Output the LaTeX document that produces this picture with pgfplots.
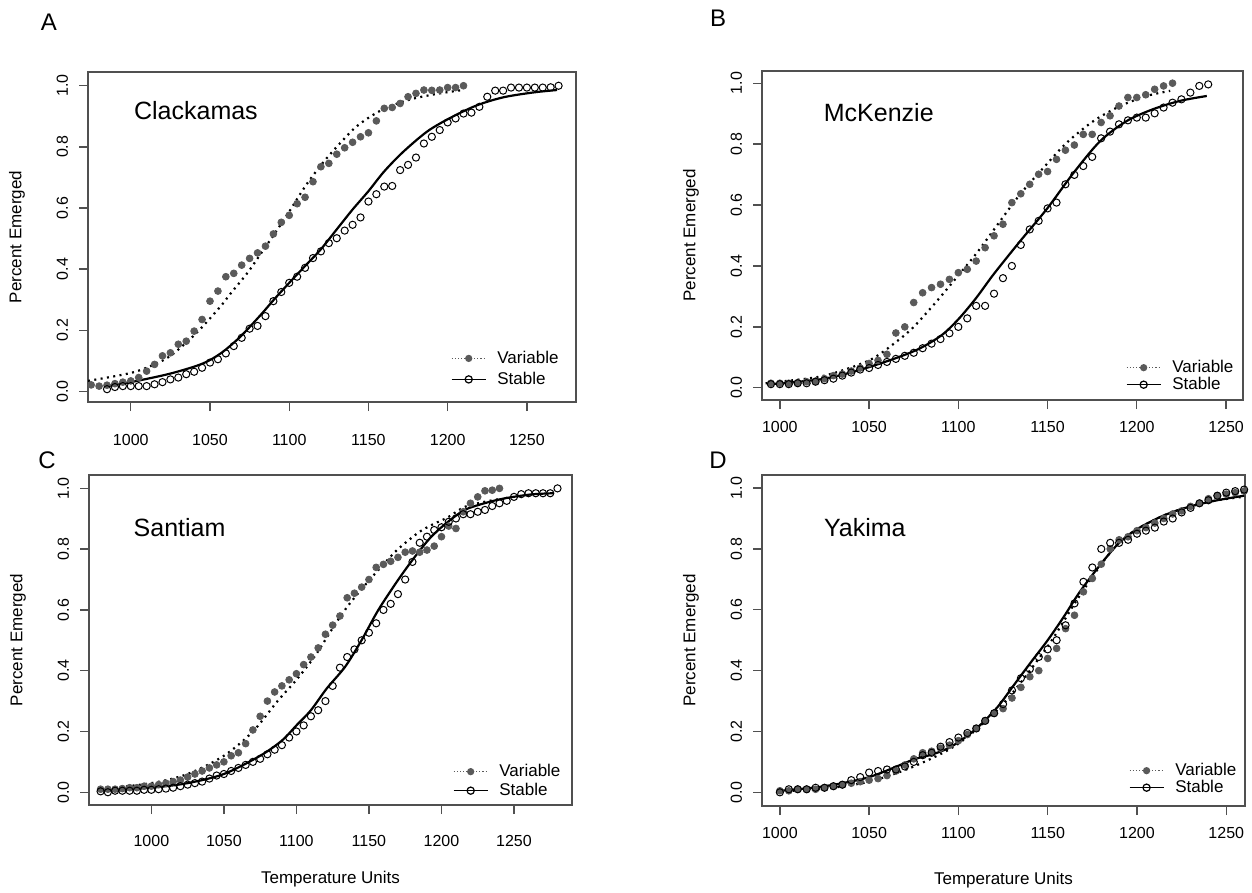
\documentclass[border=0pt]{standalone}
\usepackage{pgfplots}
\pgfplotsset{compat=1.18}
\usepackage{fontspec}
\setmainfont{Liberation Sans}

\definecolor{dotgray}{HTML}{5A5A5A}
\definecolor{framegray}{HTML}{505050}

\tikzset{ptitle/.style={anchor=west, font=\fontsize{12.5}{14}\selectfont}}

\pgfplotsset{
  panel/.style={
    scale only axis,
    axis line style={framegray, line width=0.65pt},
    every tick/.style={framegray, line width=0.65pt},
    tick align=outside,
    major tick length=4.5pt,
    xtick pos=bottom, ytick pos=left,
    xtick={1000,1050,1100,1150,1200,1250},
    ytick={0,0.2,0.4,0.6,0.8,1},
    tick label style={font=\fontsize{8}{9.6}\selectfont, /pgf/number format/assume math mode=true},
    x tick label style={/pgf/number format/1000 sep={}},
    yticklabel shift=2pt,
    y tick label style={rotate=90, anchor=south,
      /pgf/number format/fixed, /pgf/number format/fixed zerofill, /pgf/number format/precision=1},
    ylabel={Percent Emerged},
    every axis y label/.style={at={(axis description cs:0,0.5)}, xshift=-35.5pt,
      rotate=90, anchor=center, font=\fontsize{8.5}{10}\selectfont},
    every axis x label/.style={at={(axis description cs:0.5,0)}, yshift=-37pt,
      anchor=center, font=\fontsize{8.5}{10}\selectfont},
    legend cell align=left,
    legend style={draw=none, fill=none, inner sep=0pt,
      font=\fontsize{8.5}{10}\selectfont,
      nodes={inner sep=0.5pt, text height=6.5pt, text depth=1.5pt},
      /tikz/every odd column/.append style={column sep=5pt}},
  },
  var/.style={only marks, mark=*, mark size=1.7pt, color=dotgray,
    mark options={draw=dotgray, fill=dotgray}},
  stab/.style={only marks, mark=o, mark size=1.8pt, color=black,
    mark options={line width=0.5pt}},
  varfit/.style={no marks, smooth, black, line width=1.1pt, dash pattern=on 1pt off 2.2pt},
  stabfit/.style={no marks, smooth, black, line width=1.1pt},
}

\newcommand{\legimages}{%
  \addlegendimage{dotgray, densely dotted, line width=0.6pt, mark=*, mark size=1.5pt, mark options={solid, fill=dotgray}}
  \addlegendentry{Variable}
  \addlegendimage{black, line width=0.6pt, mark=o, mark size=1.8pt}
  \addlegendentry{Stable}
}

\begin{document}
\begin{tikzpicture}
\useasboundingbox (0,0) rectangle (626pt,-446.5pt);

\node[font=\fontsize{12}{14}\selectfont] at (24.5pt,-11pt) {A};
\node[font=\fontsize{12}{14}\selectfont] at (359pt,-9pt) {B};
\node[font=\fontsize{12}{14}\selectfont] at (23.5pt,-230pt) {C};
\node[font=\fontsize{12}{14}\selectfont] at (359pt,-230pt) {D};

% ---------------- A: Clackamas
\begin{axis}[panel, at={(44pt,-36pt)}, anchor=north west,
  width=244pt, height=165pt,
  xmin=973, xmax=1281, ymin=-0.035, ymax=1.045,
  x tick label style={yshift=-8pt},
  legend style={at={(axis description cs:0.967,0.04)}, anchor=south east, row sep=1.5pt}]
\legimages
\addplot[varfit] coordinates {
 (973,0.034) (1000,0.06) (1015,0.088) (1025,0.116) (1036,0.164) (1045,0.21)
 (1057,0.28) (1063,0.32) (1074,0.39) (1082,0.45) (1090,0.51) (1099,0.58)
 (1110,0.67) (1120,0.74) (1130,0.80) (1141,0.86) (1150,0.895) (1160,0.925)
 (1170,0.945) (1180,0.96) (1195,0.975) (1208,0.985)};
\addplot[stabfit] coordinates {
 (984,0.016) (1000,0.03) (1025,0.058) (1045,0.09) (1057,0.125) (1069,0.178)
 (1082,0.25) (1090,0.298) (1100,0.355) (1110,0.41) (1120,0.465) (1130,0.53)
 (1140,0.595) (1150,0.655) (1160,0.72) (1172,0.784) (1187,0.85) (1201,0.893)
 (1218,0.935) (1235,0.962) (1254,0.978) (1269,0.986)};
\addplot[var] coordinates {
 (975,0.021) (980,0.017) (985,0.02) (990,0.025) (995,0.03) (1000,0.034)
 (1005,0.045) (1010,0.066) (1015,0.088) (1020,0.116) (1025,0.126) (1030,0.154)
 (1035,0.164) (1040,0.197) (1045,0.235) (1050,0.295) (1055,0.328) (1060,0.375)
 (1065,0.386) (1070,0.413) (1075,0.435) (1080,0.453) (1085,0.475) (1090,0.515)
 (1095,0.553) (1100,0.576) (1105,0.614) (1110,0.635) (1115,0.686) (1120,0.735)
 (1125,0.746) (1130,0.776) (1135,0.797) (1140,0.815) (1145,0.833) (1150,0.846)
 (1155,0.885) (1160,0.926) (1165,0.929) (1170,0.942) (1175,0.964) (1180,0.975)
 (1185,0.986) (1190,0.985) (1195,0.986) (1200,0.994) (1205,0.994) (1210,1.0)};
\addplot[stab] coordinates {
 (985,0.007) (990,0.014) (995,0.017) (1000,0.017) (1005,0.017) (1010,0.017)
 (1015,0.023) (1020,0.030) (1025,0.039) (1030,0.045) (1035,0.056) (1040,0.064)
 (1045,0.077) (1050,0.094) (1055,0.105) (1060,0.124) (1065,0.148) (1070,0.175)
 (1075,0.205) (1080,0.214) (1085,0.246) (1090,0.295) (1095,0.325) (1100,0.355)
 (1105,0.375) (1110,0.404) (1115,0.436) (1120,0.458) (1125,0.485) (1130,0.501)
 (1135,0.526) (1140,0.545) (1145,0.569) (1150,0.621) (1155,0.645) (1160,0.670)
 (1165,0.672) (1170,0.724) (1175,0.741) (1180,0.765) (1185,0.811) (1190,0.833)
 (1195,0.855) (1200,0.880) (1205,0.893) (1210,0.909) (1215,0.912) (1220,0.931)
 (1225,0.964) (1230,0.984) (1235,0.984) (1240,0.994) (1245,0.994) (1250,0.994)
 (1255,0.994) (1260,0.994) (1265,0.995) (1270,1.0)};
\node[ptitle] at (axis description cs:0.08,0.882) {Clackamas};
\end{axis}

% ---------------- B: McKenzie
\begin{axis}[panel, at={(381pt,-35.5pt)}, anchor=north west,
  width=240.5pt, height=164.5pt,
  xmin=990, xmax=1259.5, ymin=-0.04, ymax=1.04,
  x tick label style={yshift=-2.5pt},
  legend style={at={(axis description cs:0.983,0.018)}, anchor=south east, row sep=-0.5pt}]
\legimages
\addplot[varfit] coordinates {
 (992,0.015) (1000,0.02) (1025,0.04) (1050,0.09) (1065,0.15) (1075,0.2)
 (1088,0.285) (1099,0.362) (1110.5,0.444) (1123.5,0.548) (1134.7,0.636)
 (1147.8,0.723) (1160.8,0.805) (1175.8,0.876) (1190.7,0.925) (1205.6,0.958)
 (1218.7,0.975)};
\addplot[stabfit] coordinates {
 (995,0.012) (1025,0.03) (1050,0.068) (1075,0.12) (1090,0.17) (1100,0.225)
 (1110,0.295) (1119.8,0.373) (1134.7,0.482) (1149.7,0.588) (1164.6,0.706)
 (1179.5,0.81) (1194.4,0.876) (1209.3,0.915) (1224.3,0.942) (1239.2,0.958)};
\addplot[var] coordinates {
 (995,0.015) (1000,0.015) (1005,0.015) (1010,0.017) (1015,0.02) (1020,0.022)
 (1025,0.03) (1030,0.04) (1035,0.045) (1040,0.055) (1045,0.065) (1050,0.08)
 (1055,0.09) (1060,0.11) (1065,0.18) (1070,0.2) (1075,0.28) (1080,0.312)
 (1085,0.329) (1090,0.34) (1095,0.356) (1100,0.378) (1105,0.389) (1110,0.416)
 (1115,0.46) (1120,0.499) (1125,0.537) (1130,0.608) (1135,0.637) (1140,0.668)
 (1145,0.701) (1150,0.71) (1155,0.75) (1160,0.78) (1165,0.797) (1170,0.832)
 (1175,0.832) (1180,0.871) (1185,0.893) (1190,0.925) (1195,0.953) (1200,0.953)
 (1205,0.962) (1210,0.98) (1215,0.991) (1220,1.0)};
\addplot[stab] coordinates {
 (995,0.012) (1000,0.012) (1005,0.012) (1010,0.015) (1015,0.015) (1020,0.02)
 (1025,0.025) (1030,0.03) (1035,0.04) (1040,0.05) (1045,0.06) (1050,0.065)
 (1055,0.075) (1060,0.085) (1065,0.095) (1070,0.105) (1075,0.115) (1080,0.13)
 (1085,0.145) (1090,0.16) (1095,0.179) (1100,0.2) (1105,0.228) (1110,0.269)
 (1115,0.269) (1120,0.309) (1125,0.36) (1130,0.4) (1135,0.469) (1140,0.52)
 (1145,0.548) (1150,0.589) (1155,0.608) (1160,0.668) (1165,0.699) (1170,0.728)
 (1175,0.758) (1180,0.819) (1185,0.841) (1190,0.865) (1195,0.878) (1200,0.887)
 (1205,0.887) (1210,0.901) (1215,0.92) (1220,0.936) (1225,0.947) (1230,0.969)
 (1235,0.991) (1240,0.996)};
\node[ptitle] at (axis description cs:0.114,0.875) {McKenzie};
\end{axis}

% ---------------- C: Santiam
\begin{axis}[panel, at={(44.5pt,-237.5pt)}, anchor=north west,
  width=241.5pt, height=165pt,
  xmin=957, xmax=1290, ymin=-0.042, ymax=1.044,
  x tick label style={yshift=-7pt},
  xlabel={Temperature Units},
  legend style={at={(axis description cs:0.979,0.015)}, anchor=south east, row sep=0.5pt}]
\legimages
\addplot[varfit] coordinates {
 (965,0.01) (1000,0.03) (1025,0.06) (1050,0.12) (1070,0.2) (1087,0.3)
 (1100,0.37) (1113,0.45) (1125,0.54) (1135,0.61) (1147,0.68) (1160,0.75)
 (1170,0.8) (1184,0.854) (1193,0.879) (1204.5,0.905) (1216,0.939) (1230,0.956)
 (1240,0.965)};
\addplot[stabfit] coordinates {
 (965,0.005) (1000,0.015) (1025,0.03) (1050,0.06) (1075,0.12) (1090,0.17)
 (1100,0.22) (1110,0.27) (1121,0.342) (1133.6,0.413) (1145,0.501) (1156.5,0.6)
 (1170,0.698) (1181.7,0.775) (1193,0.841) (1204.5,0.89) (1216,0.929)
 (1229.6,0.951) (1243.4,0.967) (1261.7,0.98) (1277,0.984)};
\addplot[var] coordinates {
 (965,0.01) (970,0.01) (975,0.01) (980,0.012) (985,0.015) (990,0.015)
 (995,0.02) (1000,0.02) (1005,0.025) (1010,0.03) (1015,0.035) (1020,0.04)
 (1025,0.05) (1030,0.06) (1035,0.07) (1040,0.08) (1045,0.09) (1050,0.1)
 (1055,0.12) (1060,0.13) (1065,0.16) (1070,0.205) (1075,0.25) (1080,0.3)
 (1085,0.33) (1090,0.35) (1095,0.37) (1100,0.39) (1105,0.42) (1110,0.445)
 (1115,0.475) (1120,0.52) (1125,0.55) (1130,0.58) (1135,0.64) (1140,0.655)
 (1145,0.675) (1150,0.7) (1155,0.74) (1160,0.75) (1165,0.76) (1170,0.773)
 (1175,0.79) (1180,0.794) (1185,0.79) (1190,0.797) (1195,0.81) (1200,0.841)
 (1205,0.876) (1210,0.868) (1215,0.923) (1220,0.951) (1225,0.972) (1230,0.992)
 (1235,0.994) (1240,1.0)};
\addplot[stab] coordinates {
 (965,0.003) (970,0.0) (975,0.005) (980,0.005) (985,0.005) (990,0.005)
 (995,0.008) (1000,0.008) (1005,0.01) (1010,0.012) (1015,0.015) (1020,0.02)
 (1025,0.025) (1030,0.03) (1035,0.035) (1040,0.045) (1045,0.055) (1050,0.06)
 (1055,0.07) (1060,0.08) (1065,0.09) (1070,0.1) (1075,0.11) (1080,0.125)
 (1085,0.14) (1090,0.155) (1095,0.18) (1100,0.2) (1105,0.22) (1110,0.25)
 (1115,0.27) (1120,0.3) (1125,0.35) (1130,0.41) (1135,0.445) (1140,0.47)
 (1145,0.5) (1150,0.525) (1155,0.556) (1160,0.6) (1165,0.62) (1170,0.652)
 (1175,0.7) (1180,0.758) (1185,0.821) (1190,0.841) (1195,0.863) (1200,0.872)
 (1205,0.89) (1210,0.901) (1215,0.915) (1220,0.915) (1225,0.923) (1230,0.929)
 (1235,0.942) (1240,0.951) (1245,0.959) (1250,0.972) (1255,0.981) (1260,0.984)
 (1265,0.984) (1270,0.984) (1275,0.984) (1280,1.0)};
\node[ptitle] at (axis description cs:0.078,0.841) {Santiam};
\end{axis}

% ---------------- D: Yakima
\begin{axis}[panel, at={(381pt,-237.5pt)}, anchor=north west,
  width=241.5pt, height=165.5pt,
  xmin=990, xmax=1260.5, ymin=-0.045, ymax=1.043,
  x tick label style={yshift=-2.5pt},
  xlabel={Temperature Units},
  legend style={at={(axis description cs:0.985,0.027)}, anchor=south east, row sep=-0.5pt}]
\legimages
\addplot[varfit] coordinates {
 (1000,0.003) (1025,0.012) (1050,0.035) (1075,0.085) (1100,0.16) (1125,0.29)
 (1150,0.48) (1165,0.62) (1180,0.75) (1190,0.82) (1200,0.865) (1215,0.91)
 (1230,0.94) (1245,0.96) (1265,0.975)};
\addplot[stabfit] coordinates {
 (1000,0.005) (1025,0.02) (1050,0.05) (1075,0.108) (1084,0.122) (1094,0.144)
 (1103,0.177) (1112,0.22) (1122,0.281) (1131,0.352) (1140,0.423) (1150,0.5)
 (1159,0.577) (1168,0.659) (1180,0.752) (1190,0.82) (1200,0.865) (1215,0.91)
 (1230,0.94) (1245,0.96) (1260,0.975)};
\addplot[var] coordinates {
 (1000,0.005) (1005,0.005) (1010,0.01) (1015,0.01) (1020,0.01) (1025,0.015)
 (1030,0.02) (1035,0.025) (1040,0.03) (1045,0.035) (1050,0.04) (1055,0.045)
 (1060,0.055) (1065,0.07) (1070,0.09) (1075,0.11) (1080,0.13) (1085,0.135)
 (1090,0.145) (1095,0.155) (1100,0.17) (1105,0.19) (1110,0.21) (1115,0.235)
 (1120,0.26) (1125,0.275) (1130,0.31) (1135,0.345) (1140,0.38) (1145,0.4)
 (1150,0.44) (1155,0.473) (1160,0.538) (1165,0.582) (1170,0.659) (1175,0.703)
 (1180,0.75) (1185,0.8) (1190,0.83) (1195,0.84) (1200,0.86) (1205,0.87)
 (1210,0.885) (1215,0.9) (1220,0.915) (1225,0.925) (1230,0.94) (1235,0.95)
 (1240,0.965) (1245,0.975) (1250,0.98) (1255,0.985) (1260,0.99) (1265,0.99)};
\addplot[stab] coordinates {
 (1000,0.0) (1005,0.01) (1010,0.01) (1015,0.01) (1020,0.015) (1025,0.015)
 (1030,0.02) (1035,0.025) (1040,0.04) (1045,0.05) (1050,0.065) (1055,0.07)
 (1060,0.075) (1065,0.075) (1070,0.085) (1075,0.1) (1080,0.122) (1085,0.13)
 (1090,0.15) (1095,0.165) (1100,0.18) (1105,0.195) (1110,0.21) (1115,0.235)
 (1120,0.26) (1125,0.29) (1130,0.335) (1135,0.375) (1140,0.405) (1145,0.445)
 (1150,0.47) (1155,0.5) (1160,0.549) (1165,0.621) (1170,0.692) (1175,0.739)
 (1180,0.8) (1185,0.82) (1190,0.82) (1195,0.83) (1200,0.85) (1205,0.86)
 (1210,0.87) (1215,0.89) (1220,0.9) (1225,0.92) (1230,0.935) (1235,0.95)
 (1240,0.96) (1245,0.975) (1250,0.985) (1255,0.99) (1260,0.995)};
\node[ptitle] at (axis description cs:0.114,0.84) {Yakima};
\end{axis}
\end{tikzpicture}
\end{document}
